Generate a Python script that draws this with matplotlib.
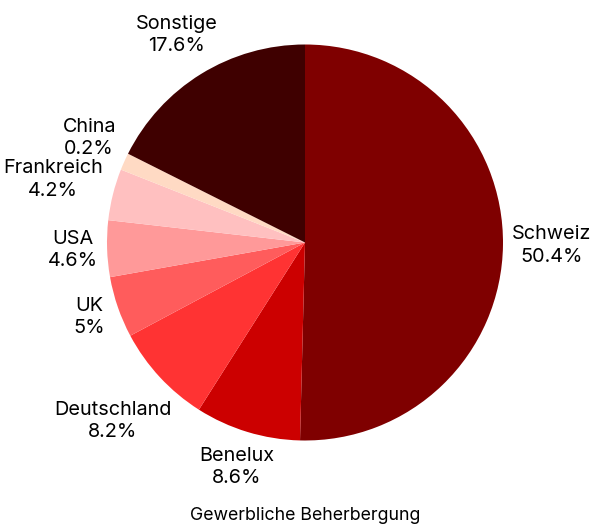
import matplotlib
matplotlib.use("Agg")
import matplotlib.pyplot as plt
import numpy as np

# Data
categories = ["Schweiz", "Benelux", "Deutschland", "UK", "USA", "Frankreich", "China", "Sonstige"]
shares = [50.4, 8.6, 8.2, 5, 4.6, 4.2, 0.2, 17.6]          # label values (%)
slice_sizes = [50.4, 8.6, 8.2, 5, 4.6, 4.2, 1.4, 17.6]     # drawn slice sizes (min slice width)
colors = ["#7f0000", "#cc0000", "#ff3333", "#ff5c5c", "#ff9999", "#ffc0c0", "#ffdac4", "#3f0000"]
title = "Gewerbliche Beherbergung"

plt.rcParams['font.family'] = ['Inter', 'DejaVu Sans']

W, H = 593, 524
fig = plt.figure(figsize=(W / 100, H / 100), dpi=100)
cx, cy, r = 305, 242.5, 198
ax = fig.add_axes([(cx - r) / W, (H - cy - r) / H, 2 * r / W, 2 * r / H])

labels = [f"{c}\n{s:g}%" for c, s in zip(categories, shares)]
wedges, texts = ax.pie(slice_sizes, labels=labels, colors=colors, startangle=90,
                       counterclock=False, labeldistance=1.25, radius=1,
                       wedgeprops=dict(linewidth=0),
                       textprops=dict(fontsize=14.3, color="black", linespacing=1.3))
ax.set_xlim(-1, 1)
ax.set_ylim(-1, 1)
ax.set_aspect("equal")
ax.axis("off")

# Place each label on its slice's mid-angle ray, pushed out until the
# text box clears a circle slightly larger than the pie; then resolve
# overlaps by shifting a label upward and re-fitting it horizontally.
renderer = fig.canvas.get_renderer()
c0 = ax.transData.transform((0, 0))
rpx = ax.transData.transform((1, 0))[0] - c0[0]
clear = rpx * 1.045


def nearest(p, a, b):
    q = np.array([np.clip(0, p[0] - a, p[0] + a), np.clip(0, p[1] - b, p[1] + b)])
    return np.hypot(*q)


def solve(f, lo, hi):
    for _ in range(60):
        mid = (lo + hi) / 2
        if f(mid) < clear:
            lo = mid
        else:
            hi = mid
    return hi


boxes = []
for w, t in zip(wedges, texts):
    t.set_ha("center")
    t.set_va("center")
    bb = t.get_window_extent(renderer)
    a, b = bb.width / 2, bb.height / 2
    ang = np.deg2rad((w.theta1 + w.theta2) / 2)
    u = np.array([np.cos(ang), np.sin(ang)])
    d = solve(lambda d: nearest(d * u, a, b), 0.0, rpx * 3)
    p = d * u
    for (q, qa, qb) in boxes:
        if abs(p[0] - q[0]) < a + qa and abs(p[1] - q[1]) < b + qb + 1:
            y_new = q[1] + qb + b + 1
            sgn = 1.0 if p[0] >= 0 else -1.0
            x_new = sgn * solve(lambda x: nearest((sgn * x, y_new), a, b), 0.0, rpx * 3)
            p = np.array([x_new, y_new])
    boxes.append((p.copy(), a, b))
    t.set_position(ax.transData.inverted().transform(c0 + p))

fig.text(cx / W, 1 - 516 / H, title, ha="center", va="center", fontsize=12.8, color="black")

fig.savefig("out.png", dpi=100)
